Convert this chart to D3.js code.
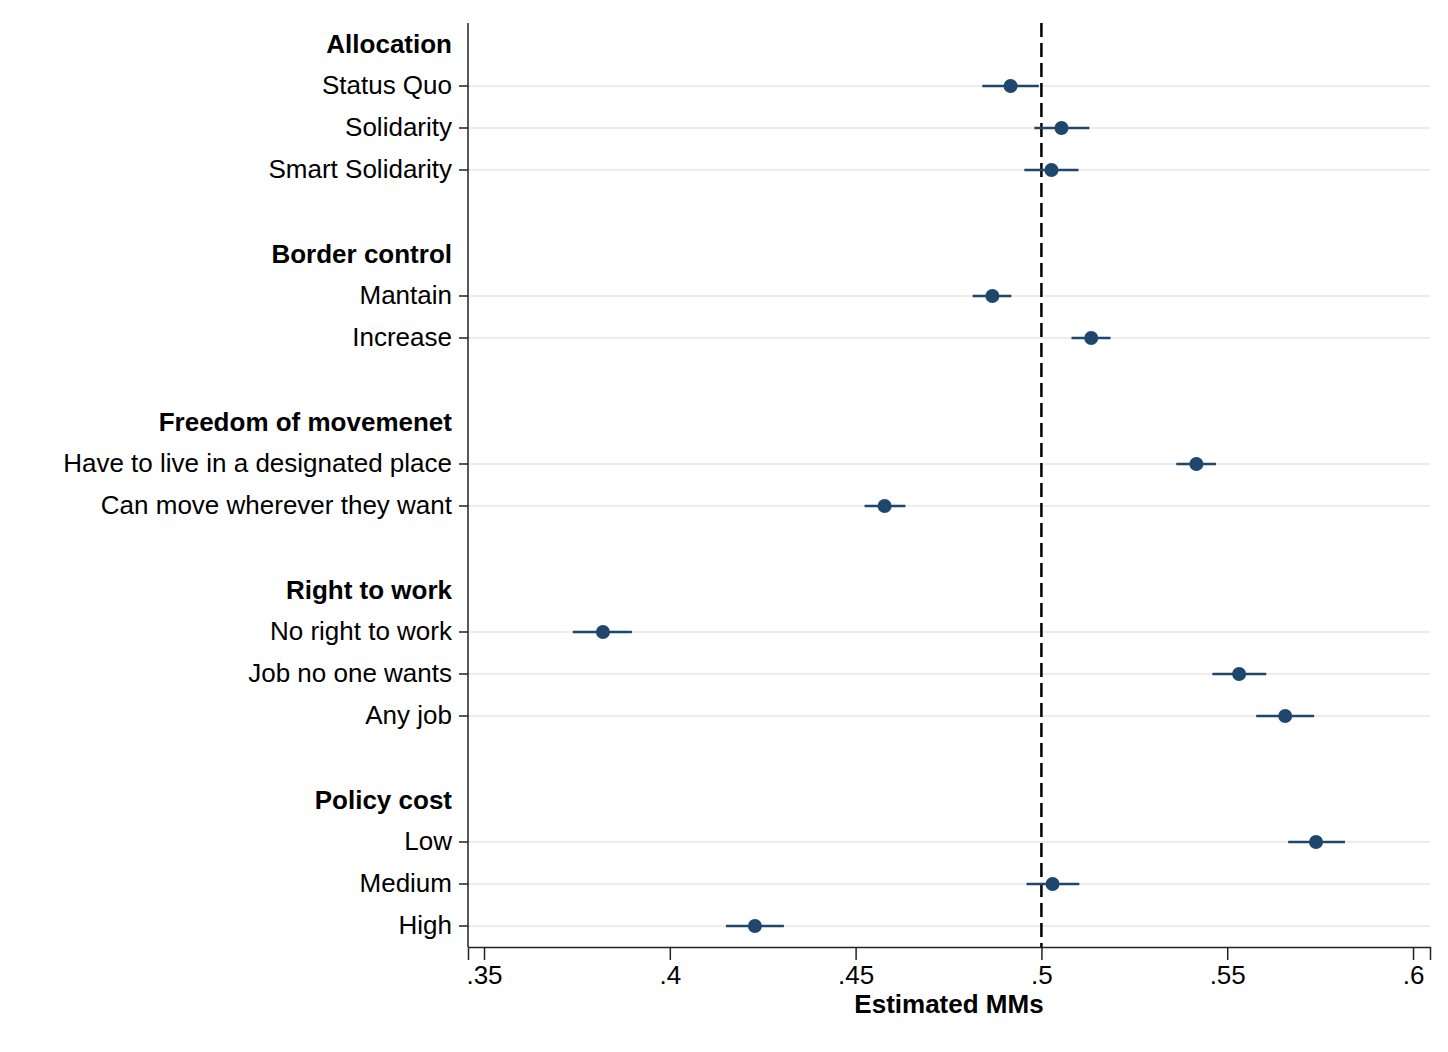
<!DOCTYPE html>
<html>
<head>
<meta charset="utf-8">
<script src="https://cdn.jsdelivr.net/npm/d3@7"></script>
<style>
  body { margin: 0; background: #fff; }
  text { font-family: "Liberation Sans", Arial, Helvetica, sans-serif; }
</style>
</head>
<body>
<div id="chart"></div>
<script>
// attribute groups and their levels
var groups = ["Allocation", "Border control", "Freedom of movemenet", "Right to work", "Policy cost"];
var levels = [
  ["Status Quo", "Solidarity", "Smart Solidarity"],
  ["Mantain", "Increase"],
  ["Have to live in a designated place", "Can move wherever they want"],
  ["No right to work", "Job no one wants", "Any job"],
  ["Low", "Medium", "High"]
];
// marginal means and 95% CI bounds
var estimates = [
  [0.4917, 0.5054, 0.5027],
  [0.4868, 0.5134],
  [0.5417, 0.4578],
  [0.3820, 0.5532, 0.5656],
  [0.5739, 0.5030, 0.4229]
];
var lower = [
  [0.4841, 0.4981, 0.4954],
  [0.4815, 0.5081],
  [0.5363, 0.4524],
  [0.3739, 0.5460, 0.5578],
  [0.5664, 0.4960, 0.4151]
];
var upper = [
  [0.4993, 0.5129, 0.5100],
  [0.4919, 0.5186],
  [0.5470, 0.4634],
  [0.3898, 0.5605, 0.5734],
  [0.5817, 0.5102, 0.4307]
];
var xTicks = [0.35, 0.4, 0.45, 0.5, 0.55, 0.6];
var refValue = 0.5;

// build the row list: header, levels, spacer
var rows = [];
groups.forEach(function(g, gi) {
  rows.push({ id: "h" + gi, label: g, type: "header" });
  levels[gi].forEach(function(l, li) {
    rows.push({ id: "r" + gi + "_" + li, label: l, type: "level",
      est: estimates[gi][li], lo: lower[gi][li], hi: upper[gi][li] });
  });
  if (gi < groups.length - 1) rows.push({ id: "s" + gi, label: "", type: "spacer" });
});

var W = 1448, H = 1052;
var margin = { top: 23, right: 18, bottom: 105, left: 468 };
var width = W - margin.left - margin.right,
    height = H - margin.top - margin.bottom;
var fs = 26;

var svg = d3.select("#chart").append("svg")
    .attr("width", W)
    .attr("height", H)
  .append("g")
    .attr("transform", "translate(" + margin.left + "," + margin.top + ")");

var x = d3.scaleLinear()
    .domain([0.34569, 0.60457])
    .range([0, width]);

var y = d3.scaleBand()
    .domain(rows.map(function(d) { return d.id; }))
    .range([0, height]);

var yc = function(id) { return y(id) + y.bandwidth() / 2; };
var levelRows = rows.filter(function(d) { return d.type === "level"; });
var headerRows = rows.filter(function(d) { return d.type === "header"; });

// gridlines
svg.selectAll(".grid").data(levelRows).enter()
  .append("line")
    .attr("class", "grid")
    .attr("x1", 0).attr("x2", width)
    .attr("y1", function(d) { return yc(d.id); })
    .attr("y2", function(d) { return yc(d.id); })
    .attr("stroke", "#e6e6e6")
    .attr("stroke-width", 1.5);

// reference line
svg.append("line")
    .attr("x1", x(refValue)).attr("x2", x(refValue))
    .attr("y1", 0).attr("y2", height)
    .attr("stroke", "#000")
    .attr("stroke-width", 2.5)
    .attr("stroke-dasharray", "14,6");

// x axis
var xAxis = d3.axisBottom(x)
    .tickValues(xTicks)
    .tickSize(13)
    .tickPadding(6)
    .tickFormat(function(d) { return d3.format(".2~f")(d).replace(/^0/, ""); });

var gx = svg.append("g")
    .attr("transform", "translate(0," + height + ")")
    .call(xAxis);
gx.select(".domain").attr("stroke", "#222").attr("stroke-width", 1.5);
gx.selectAll(".tick line").attr("stroke", "#222").attr("stroke-width", 1.5);
gx.selectAll("text").attr("font-size", fs).attr("fill", "#000")
    .style("font-family", "'Liberation Sans', Arial, sans-serif");

svg.append("text")
    .attr("x", width / 2)
    .attr("y", height + 66)
    .attr("text-anchor", "middle")
    .attr("font-size", fs)
    .attr("font-weight", "bold")
    .text("Estimated MMs");

// y axis (level rows carry ticks)
var yAxis = d3.axisLeft(y)
    .tickValues(levelRows.map(function(d) { return d.id; }))
    .tickSize(9)
    .tickPadding(7)
    .tickFormat(function(id) { return rows.find(function(r) { return r.id === id; }).label; });

var gy = svg.append("g").call(yAxis);
gy.select(".domain").attr("stroke", "#222").attr("stroke-width", 1.5).attr("d", "M0,0V" + height);
gy.selectAll(".tick line").attr("stroke", "#222").attr("stroke-width", 1.5);
gy.selectAll("text").attr("font-size", fs).attr("fill", "#000")
    .style("font-family", "'Liberation Sans', Arial, sans-serif");

// group headers
svg.selectAll(".header").data(headerRows).enter()
  .append("text")
    .attr("class", "header")
    .attr("x", -16)
    .attr("y", function(d) { return yc(d.id); })
    .attr("dy", "0.35em")
    .attr("text-anchor", "end")
    .attr("font-size", fs)
    .attr("font-weight", "bold")
    .text(function(d) { return d.label; });

// confidence intervals
svg.selectAll(".ci").data(levelRows).enter()
  .append("line")
    .attr("class", "ci")
    .attr("x1", function(d) { return x(d.lo); })
    .attr("x2", function(d) { return x(d.hi); })
    .attr("y1", function(d) { return yc(d.id); })
    .attr("y2", function(d) { return yc(d.id); })
    .attr("stroke", "#1f466d")
    .attr("stroke-width", 2.5);

// point estimates
svg.selectAll(".dot").data(levelRows).enter()
  .append("circle")
    .attr("class", "dot")
    .attr("cx", function(d) { return x(d.est); })
    .attr("cy", function(d) { return yc(d.id); })
    .attr("r", 7)
    .attr("fill", "#1f466d");
</script>
</body>
</html>
